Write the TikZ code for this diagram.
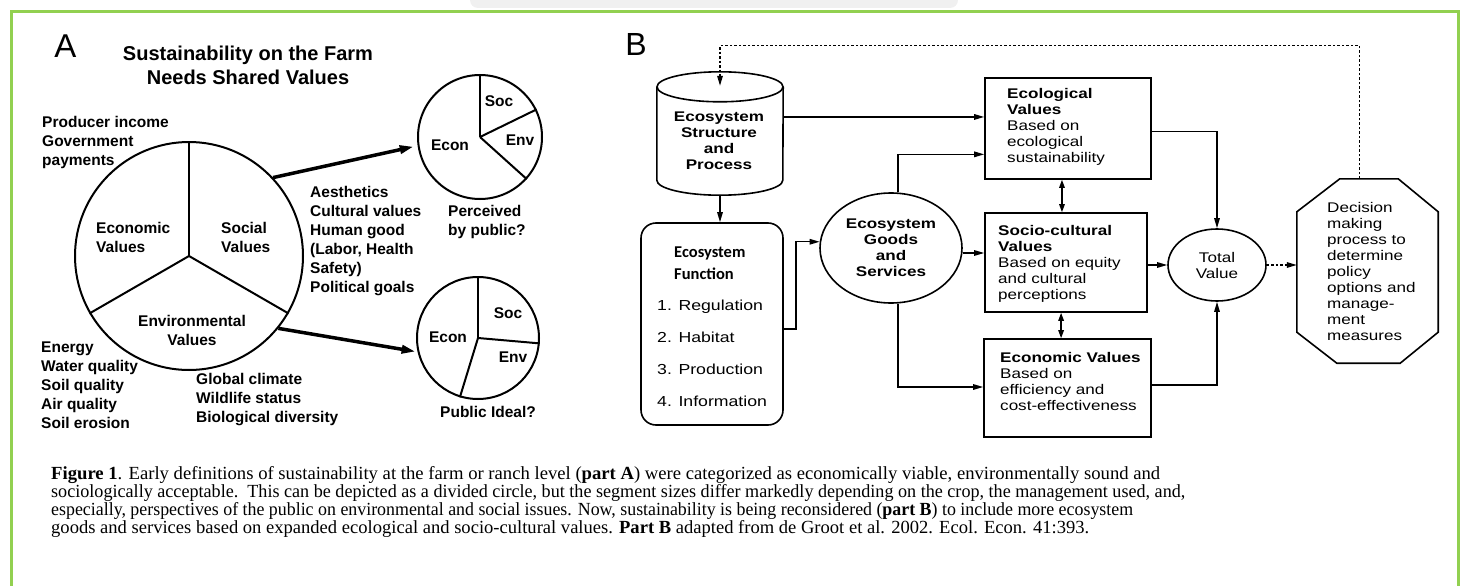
\documentclass[tikz,border=0pt]{standalone}
\usepackage{fontspec}
\usepackage{graphicx}
\usetikzlibrary{arrows.meta,calc,shapes.geometric}
\newfontfamily\asans{Liberation Sans}
\newfontfamily\bsans[FakeStretch=1.22]{Liberation Sans}
\newfontfamily\calfont{Carlito}
\newfontfamily\capfont{Liberation Serif}
\definecolor{framegreen}{RGB}{146,208,80}
\tikzset{
  atext/.style={font=\asans\bfseries\fontsize{15.5}{19}\selectfont, inner sep=0pt, align=left},
  btxt/.style={font=\bsans\fontsize{14}{16}\selectfont, inner sep=0pt, align=left},
  bbold/.style={font=\bsans\bfseries\fontsize{14}{16}\selectfont, inner sep=0pt, align=center},
  pline/.style={line width=2pt},
  bigarr/.style={line width=3.5pt, -{Triangle[length=14pt,width=8pt]}},
  rbox/.style={draw, line width=1.6pt, inner sep=0pt},
  arr/.style={line width=1.4pt, -{Triangle[length=10pt,width=5.5pt]}},
  darr/.style={line width=1.4pt, {Triangle[length=8pt,width=5.5pt]}-{Triangle[length=8pt,width=5.5pt]}},
  dotarr/.style={line width=1.4pt, dash pattern=on 2.5pt off 2pt, -{Triangle[length=10pt,width=5.5pt]}},
  capline/.style={font=\capfont\fontsize{18.5}{18}\selectfont, inner sep=0pt, anchor=base west},
}
\begin{document}
\begin{tikzpicture}[x=1pt,y=-1pt]
\useasboundingbox (0,0) rectangle (1465,586);
% background decorations
\fill[gray!12, rounded corners=8pt] (470,-10) rectangle (958,8);
\draw[framegreen, line width=3pt] (11.5,586) -- (11.5,11.5) -- (1458,11.5) -- (1458,586);

% ---------------- Part A ----------------
\node[font=\asans\fontsize{33}{36}\selectfont, inner sep=0pt] (labA) at (65.5,46) {A};
\node[font=\asans\bfseries\fontsize{20}{24}\selectfont, align=center, inner sep=0pt, anchor=north] (title) at (248,46) {Sustainability on the Farm\\Needs Shared Values};

\node[draw, circle, pline, minimum size=228pt, inner sep=0pt] (bigpie) at (189,256) {};
\draw[pline] (bigpie.center) -- (bigpie.north);
\draw[pline] (bigpie.center) -- (bigpie.210);
\draw[pline] (bigpie.center) -- (bigpie.330);

\node[atext, anchor=north west] (econv) at (96,222) {Economic\\Values};
\node[atext, anchor=north west] (socv) at (221,222) {Social\\Values};
\node[atext, align=center, anchor=north] (envv) at (192,315) {Environmental\\Values};

\node[atext, anchor=north west] (prod) at (42,116) {Producer income\\Government\\payments};
\node[atext, anchor=north west] (aest) at (310,186) {Aesthetics\\Cultural values\\Human good\\(Labor, Health\\Safety)\\Political goals};
\node[atext, anchor=north west] (energy) at (41,342) {Energy\\Water quality\\Soil quality\\Air quality\\Soil erosion};
\node[atext, anchor=north west] (glob) at (196,373) {Global climate\\Wildlife status\\Biological diversity};

\node[draw, circle, pline, minimum size=124pt, inner sep=0pt] (pie1) at (480,137) {};
\draw[pline] (pie1.center) -- (pie1.north);
\draw[pline] (pie1.center) -- (pie1.26);
\draw[pline] (pie1.center) -- (pie1.-42);
\node[atext] (p1soc) at (499,101) {Soc};
\node[atext] (p1env) at (520,140) {Env};
\node[atext] (p1econ) at (450,145) {Econ};
\node[atext, anchor=north west] (p1lab) at (448,205) {Perceived\\by public?};

\node[draw, circle, pline, minimum size=122pt, inner sep=0pt] (pie2) at (478,338) {};
\draw[pline] (pie2.center) -- (pie2.north);
\draw[pline] (pie2.center) -- (pie2.-5);
\draw[pline] (pie2.center) -- (pie2.-107);
\node[atext] (p2soc) at (508,313) {Soc};
\node[atext] (p2env) at (513,357) {Env};
\node[atext] (p2econ) at (448,337) {Econ};
\node[atext] (p2lab) at (488,412) {Public Ideal?};

\draw[bigarr, shorten >=4pt] (bigpie.43) -- (pie1.188);
\draw[bigarr, shorten >=2pt] (bigpie.-39) -- (pie2.193);

% ---------------- Part B ----------------
\node[font=\asans\fontsize{32}{36}\selectfont, inner sep=0pt] (labB) at (636,44) {B};

% cylinder
\node[minimum width=126pt, minimum height=123pt, inner sep=0pt] (cyl) at (720,133.5) {};
\draw[line width=1.6pt] ($(cyl.north west)+(0,15)$) -- ($(cyl.south west)+(0,-15)$)
   arc[start angle=180, end angle=0, x radius=63, y radius=15] -- ($(cyl.north east)+(0,15)$);
\draw[line width=1.6pt] ($(cyl.north)+(0,15)$) ellipse[x radius=63, y radius=15];
\node[bbold] (cyltext) at (719,141) {Ecosystem\\Structure\\and\\Process};

% function box
\node[rbox, rounded corners=15pt, minimum width=142pt, minimum height=202pt] (fn) at (712,324) {};
\node[font=\calfont\bfseries\fontsize{16.5}{22}\selectfont, inner sep=0pt, align=left, anchor=north west] (fnhead) at (674,247) {Ecosystem\\Function};
\node[font=\bsans\fontsize{14.5}{32}\selectfont, inner sep=0pt, align=left, anchor=north west] (fnlist) at (657,299.5) {1. Regulation\\2. Habitat\\3. Production\\4. Information};

% goods and services
\node[draw, ellipse, line width=1.6pt, minimum width=142pt, minimum height=110pt, inner sep=0pt, bbold] (egs) at (891,248) {Ecosystem\\Goods\\and\\Services};

% value boxes
\node[rbox, minimum width=166pt, minimum height=101pt] (eco) at (1068,128.5) {};
\node[btxt, anchor=north west] (ecotext) at (1007,88) {\textbf{Ecological}\\\textbf{Values}\\Based on\\ecological\\sustainability};
\node[rbox, minimum width=162pt, minimum height=99pt] (soc) at (1066,262.5) {};
\node[btxt, anchor=north west] (soctext) at (998,225) {\textbf{Socio-cultural}\\\textbf{Values}\\Based on equity\\and cultural\\perceptions};
\node[rbox, minimum width=167pt, minimum height=98pt] (econ) at (1067.5,388) {};
\node[btxt, anchor=north west] (econtext) at (1000,352) {\textbf{Economic Values}\\Based on\\efficiency and\\cost-effectiveness};

% total value
\node[draw, ellipse, line width=1.6pt, minimum width=98pt, minimum height=72pt, inner sep=0pt, btxt, align=center] (tv) at (1217,265) {Total\\Value};

% decision octagon
\node[minimum width=141pt, minimum height=184pt, inner sep=0pt] (dec) at (1367.5,271) {};
\draw[line width=1.6pt] ($(dec.north west)+(43,0)$) -- ($(dec.north east)+(-40,0)$) -- ($(dec.north east)+(0,33)$)
  -- ($(dec.south east)+(0,-31)$) -- ($(dec.south east)+(-38,0)$) -- ($(dec.south west)+(40,0)$)
  -- ($(dec.south west)+(0,-31)$) -- ($(dec.north west)+(0,33)$) -- cycle;
\node[btxt, anchor=north west] (dectext) at (1327,202) {Decision\\making\\process to\\determine\\policy\\options and\\manage-\\ment\\measures};

% connectors
\draw[arr] (cyl.south) -- (cyl.south |- fn.north);
\draw[arr] ($(cyl.north east)!0.366!(cyl.south east)$) coordinate (c1) -- (c1 -| eco.west);
\draw[arr] ($(fn.north east)!0.525!(fn.south east)$) -- ++(12,0) |- (egs.175);
\draw[arr] (egs.83) |- ($(eco.north west)!0.752!(eco.south west)$);
\draw[arr] (egs.-4) -- (egs.-4 -| soc.west);
\draw[arr] (egs.-83) |- ($(econ.north west)!0.49!(econ.south west)$);
\draw[darr] ($(eco.south west)!0.464!(eco.south east)$) coordinate (c2) -- (c2 |- soc.north);
\draw[darr] ($(soc.south west)!0.47!(soc.south east)$) coordinate (c3) -- (c3 |- econ.north);
\draw[arr] ($(eco.north east)!0.53!(eco.south east)$) -| (tv.north);
\draw[arr] (tv.west -| soc.east) -- (tv.west);
\draw[arr] ($(econ.north east)!0.47!(econ.south east)$) -| (tv.south);
\draw[dotarr] (tv.east) -- (tv.east -| dec.west);
\draw[dotarr] ($(dec.north west)!0.445!(dec.north east)$) -- ++(0,-133) -| ($(cyl.north)+(0,14)$);

% caption
\node[capline] (cap1) at (51,479) {\resizebox{1109pt}{\height}{\textbf{Figure 1}. Early definitions of sustainability at the farm or ranch level (\textbf{part A}) were categorized as economically viable, environmentally sound and}};
\node[capline] (cap2) at (51,497) {\resizebox{1134pt}{\height}{sociologically acceptable.\ \ This can be depicted as a divided circle, but the segment sizes differ markedly depending on the crop, the management used, and,}};
\node[capline] (cap3) at (51,515) {\resizebox{1082pt}{\height}{especially, perspectives of the public on environmental and social issues. Now, sustainability is being reconsidered (\textbf{part B}) to include more ecosystem}};
\node[capline] (cap4) at (51,533) {\resizebox{1038pt}{\height}{goods and services based on expanded ecological and socio-cultural values. \textbf{Part B} adapted from de Groot et al. 2002. Ecol. Econ. 41:393.}};
\end{tikzpicture}
\end{document}
